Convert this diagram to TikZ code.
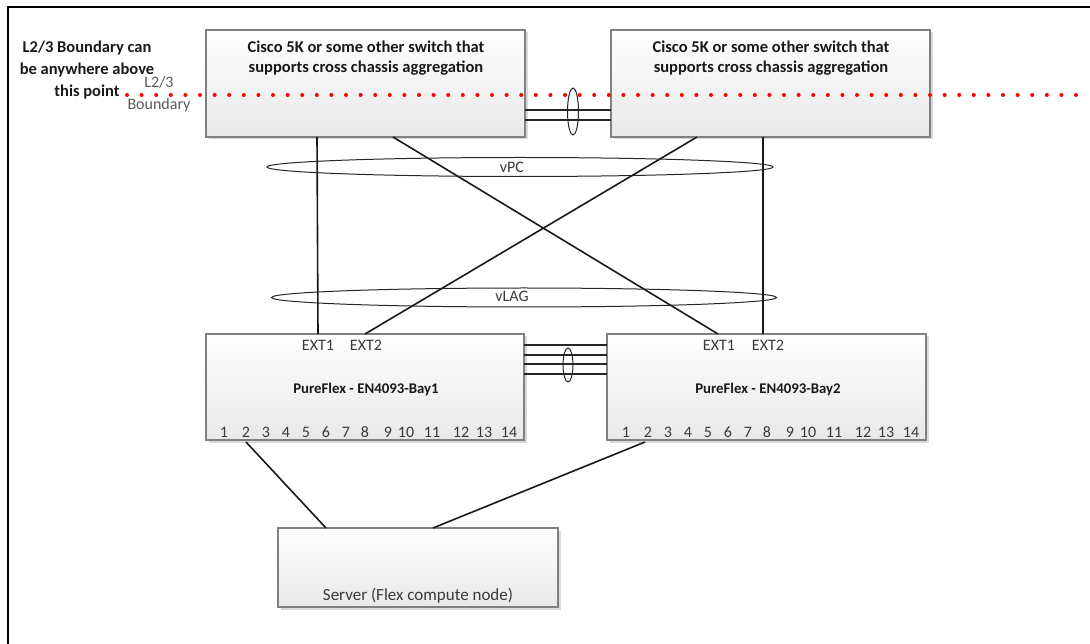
\documentclass[tikz,border=0pt]{standalone}
\usepackage{fontspec}
\setmainfont{Carlito}
\usetikzlibrary{shadows,calc}
\definecolor{txtgray}{HTML}{3A3A3A}
\definecolor{lblgray}{HTML}{5A5A5A}
\definecolor{boxedge}{HTML}{808080}
\definecolor{dotred}{HTML}{FF0000}
\tikzset{
  box/.style={draw=boxedge, line width=1.2pt, top color=white, bottom color=black!9,
    drop shadow={shadow xshift=2.5pt, shadow yshift=-2.5pt, opacity=0.3, fill=gray},
    anchor=north west, inner sep=0pt, outer sep=0pt},
  link/.style={line width=1.6pt, black!90},
  bundle/.style={line width=1.1pt, black!85},
  lag/.style={draw=black!85, line width=1pt},
  boldtxt/.style={font=\fontsize{16.5}{20}\selectfont\bfseries, align=center, text=black!90},
  titletxt/.style={font=\fontsize{14.8}{18}\selectfont\bfseries, text=black!90},
  tinytxt/.style={font=\fontsize{16}{18}\selectfont, text=txtgray, inner sep=0pt},
  port/.style={font=\fontsize{16}{18}\selectfont, text=txtgray, inner sep=0pt},
}
\begin{document}
\begin{tikzpicture}[x=1pt,y=-1pt]
\useasboundingbox (0,0) rectangle (1090,644);
% outer frame
\draw[line width=1.5pt] (8,644) -- (8,7) -- (1090,7);

% boxes
\node[box, minimum width=319pt, minimum height=107pt] (c1) at (206,30) {};
\node[box, minimum width=319pt, minimum height=107pt] (c2) at (611,30) {};
\node[box, minimum width=318pt, minimum height=106pt] (b1) at (206,334) {};
\node[box, minimum width=319pt, minimum height=106pt] (b2) at (607,334) {};
\node[box, minimum width=280pt, minimum height=79pt] (srv) at (278,528) {};

% texts in boxes
\node[boldtxt] (c1t) at (366,58) {Cisco 5K or some other switch that\\supports cross chassis aggregation};
\node[boldtxt] (c2t) at (771,58) {Cisco 5K or some other switch that\\supports cross chassis aggregation};
\node[titletxt] (b1t) at (366,389) {PureFlex - EN4093-Bay1};
\node[titletxt] (b2t) at (768,389) {PureFlex - EN4093-Bay2};
\node[font=\fontsize{17}{20}\selectfont, text=txtgray] (srvt) at (418,596) {Server (Flex compute node)};

\node[tinytxt] (b1e1) at (318,345) {EXT1};
\node[tinytxt] (b1e2) at (366,345) {EXT2};
\node[tinytxt] (b2e1) at (719,345) {EXT1};
\node[tinytxt] (b2e2) at (768,345) {EXT2};

% port numbers
\foreach \n/\dx in {1/18,2/40,3/60,4/80,5/100,6/120,7/140,8/159,9/182,10/200,11/226,12/255,13/278,14/303}{
  \node[port] (b1p\n) at ($(b1.north west)+(\dx,98)$) {\n};
  \node[port] (b2p\n) at ($(b2.north west)+(\dx+1,98)$) {\n};
}

% boundary texts
\node[font=\fontsize{16.5}{22}\selectfont\bfseries, align=center, text=black!90, inner sep=0pt] (bnd) at (87,70)
  {L2/3 Boundary can\\be anywhere above\\this point};
\node[font=\fontsize{16}{22}\selectfont, align=center, text=lblgray, inner sep=0pt] (bndl) at (159,94) {L2/3\\Boundary};

% dotted boundary line
\draw[dotred, line width=4pt, line cap=round, dash pattern=on 0pt off 14.6pt] (127,95) -- (1090,95);

% inter-chassis links between Cisco switches
\draw[bundle] ($(c1.north east)+(0,80)$) -- ($(c2.north west)+(0,80)$);
\draw[bundle] ($(c1.north east)+(0,90)$) -- ($(c2.north west)+(0,90)$);
\draw[lag] (573,111.5) ellipse [x radius=5.5, y radius=23.5];

% ISL between PureFlex switches
\foreach \dy in {11,21,30,40}{
  \draw[bundle] ($(b1.north east)+(0,\dy)$) -- ($(b2.north west)+(0,\dy)$);
}
\draw[lag] (568,365) ellipse [x radius=5, y radius=17];

% uplinks
\draw[link] ($(c1.south west)+(111,0)$) -- ($(b1.north west)+(112,0)$);
\draw[link] ($(c2.south west)+(152,0)$) -- ($(b2.north west)+(156,0)$);
\draw[link] ($(c1.south west)+(187,0)$) -- ($(b2.north west)+(111,0)$);
\draw[link] ($(c2.south west)+(86,0)$) -- ($(b1.north west)+(159,0)$);

% vPC / vLAG ellipses
\draw[lag] (520,167) ellipse [x radius=253, y radius=9.5];
\node[tinytxt] (vpc) at (512,167) {vPC};
\draw[lag] (524,297.5) ellipse [x radius=252.5, y radius=9.5];
\node[tinytxt] (vlag) at (512,296) {vLAG};

% server links
\draw[link] ($(b1.south west)+(40,2)$) -- ($(srv.north west)+(48,0)$);
\draw[link] ($(b2.south west)+(38,2)$) -- ($(srv.north west)+(155,0)$);
\end{tikzpicture}
\end{document}
